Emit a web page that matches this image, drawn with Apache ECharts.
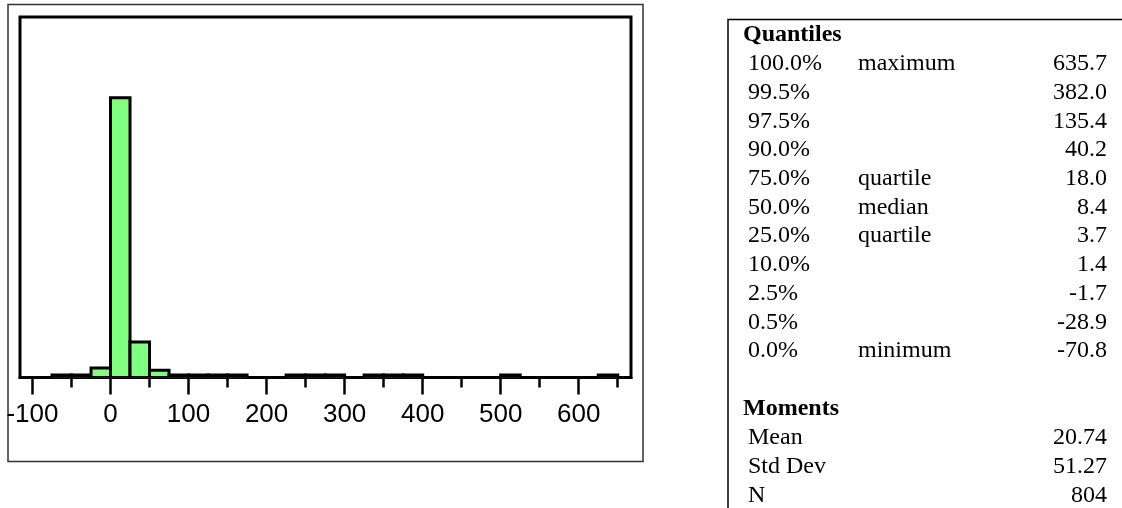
<!DOCTYPE html>
<html>
<head>
<meta charset="utf-8">
<script src="https://cdn.jsdelivr.net/npm/echarts@6/dist/echarts.min.js"></script>
<style>
  html, body { margin: 0; padding: 0; background: #fff; }
  #chart { width: 1122px; height: 508px; }
</style>
</head>
<body>
<div id="chart"></div>
<script>
// Histogram bins (width 25): lower edge of each bin and its count
const binWidth = 25;
const binStarts = [-75, -50, -25, 0, 25, 50, 75, 100, 125, 150, 225, 250, 275, 325, 350, 375, 500, 625];
const binCounts = [1, 3, 22, 647, 82, 17, 6, 5, 4, 3, 2, 2, 2, 2, 2, 2, 1, 1];

// Axis tick values
const majorTicks = [-100, 0, 100, 200, 300, 400, 500, 600];
const minorTicks = [-50, 50, 150, 250, 350, 450, 550, 650];

// Quantiles table
const quantilePcts = ['100.0%', '99.5%', '97.5%', '90.0%', '75.0%', '50.0%', '25.0%', '10.0%', '2.5%', '0.5%', '0.0%'];
const quantileNames = ['maximum', '', '', '', 'quartile', 'median', 'quartile', '', '', '', 'minimum'];
const quantileValues = ['635.7', '382.0', '135.4', '40.2', '18.0', '8.4', '3.7', '1.4', '-1.7', '-28.9', '-70.8'];

// Moments table
const momentNames = ['Mean', 'Std Dev', 'N'];
const momentValues = ['20.74', '51.27', '804'];

const binData = binStarts.map((s, i) => [s, s + binWidth, binCounts[i]]);

const serif = '"Liberation Serif", "Times New Roman", serif';
const sans = '"Liberation Sans", Arial, sans-serif';

function cell(text, x, y, align, bold) {
  return {
    type: 'text', x: x, y: y,
    style: { text: text, font: (bold ? 'bold ' : '') + '24px ' + serif, fill: '#000', verticalAlign: 'middle', align: align }
  };
}

const tableTexts = [];
const rowY0 = 64, rowStep = 28.7;
tableTexts.push(cell('Quantiles', 743, 35, 'left', true));
quantilePcts.forEach((p, i) => {
  const y = rowY0 + i * rowStep;
  tableTexts.push(cell(p, 748, y, 'left'));
  if (quantileNames[i]) tableTexts.push(cell(quantileNames[i], 858, y, 'left'));
  tableTexts.push(cell(quantileValues[i], 1107, y, 'right'));
});
tableTexts.push(cell('Moments', 743, 409, 'left', true));
momentNames.forEach((m, i) => {
  const y = 438 + i * rowStep;
  tableTexts.push(cell(m, 748, y, 'left'));
  tableTexts.push(cell(momentValues[i], 1107, y, 'right'));
});

const chart = echarts.init(document.getElementById('chart'), null, { renderer: 'canvas' });

// smallest drawn bar height in pixels, so sparse bins stay visible
const minBarPx = 2.5;

const option = {
  backgroundColor: '#fff',
  animation: false,
  grid: {
    left: 20, right: 491, top: 17, bottom: 130.5,
    show: true, borderColor: '#000', borderWidth: 3, backgroundColor: '#fff'
  },
  xAxis: [
    {
      type: 'value', min: -116, max: 667, position: 'bottom',
      splitLine: { show: false },
      axisLine: { show: true, onZero: false, lineStyle: { color: '#000', width: 3 } },
      axisTick: { show: true, customValues: majorTicks, length: 17, lineStyle: { color: '#000', width: 2.5 } },
      axisLabel: {
        show: true, customValues: majorTicks, margin: 24,
        color: '#000', fontSize: 26, fontFamily: sans,
        formatter: v => String(v)
      }
    },
    {
      type: 'value', min: -116, max: 667, position: 'bottom', offset: 0,
      splitLine: { show: false },
      axisLine: { show: false },
      axisTick: { show: true, customValues: minorTicks, length: 10, lineStyle: { color: '#000', width: 2.5 } },
      axisLabel: { show: false }
    }
  ],
  yAxis: {
    type: 'value', min: 0, max: 834,
    show: false, splitLine: { show: false }
  },
  series: [{
    type: 'custom',
    xAxisIndex: 0,
    data: binData,
    clip: true,
    renderItem: function (params, api) {
      const p0 = api.coord([api.value(0), api.value(2)]);
      const p1 = api.coord([api.value(1), 0]);
      const h = Math.max(p1[1] - p0[1], minBarPx);
      return {
        type: 'rect',
        shape: { x: p0[0], y: p1[1] - h, width: p1[0] - p0[0], height: h },
        style: { fill: '#80FF80', stroke: '#000', lineWidth: 3 }
      };
    }
  }],
  graphic: [
    { type: 'rect', shape: { x: 8, y: 4.5, width: 635, height: 457 }, style: { fill: null, stroke: '#333', lineWidth: 1.5 }, z: -1 },
    { type: 'rect', shape: { x: 728, y: 19.5, width: 500, height: 600 }, style: { fill: null, stroke: '#000', lineWidth: 1.5 } }
  ].concat(tableTexts)
};

chart.setOption(option);
</script>
</body>
</html>
